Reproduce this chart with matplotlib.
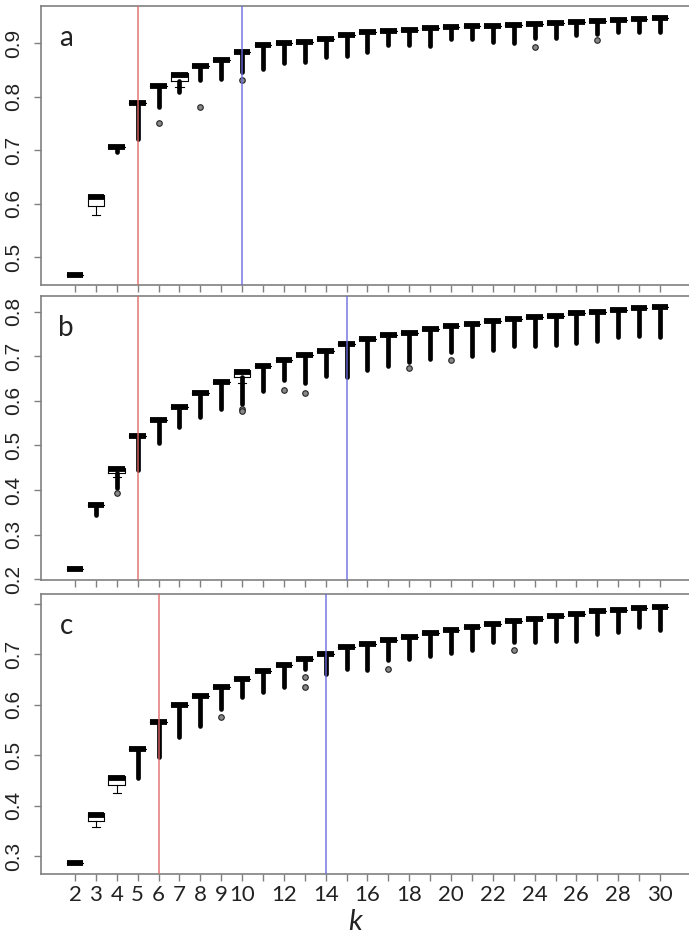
import matplotlib
matplotlib.use("Agg")
import matplotlib.pyplot as plt
import numpy as np

nan = np.nan

# number of clusters
k_values = list(range(2, 31))
xtick_labels = ["2", "3", "4", "5", "6", "7", "8", "9", "10", "", "12", "", "14", "",
                "16", "", "18", "", "20", "", "22", "", "24", "", "26", "", "28", "", "30"]

# panel a: median and lowest end of the dense outlier column
med_a = [0.466, 0.613, 0.706, 0.789, 0.820, 0.841, 0.858, 0.869, 0.884, 0.897,
         0.900, 0.903, 0.908, 0.915, 0.921, 0.924, 0.926, 0.928, 0.930, 0.932,
         0.933, 0.934, 0.936, 0.938, 0.940, 0.942, 0.943, 0.945, 0.947]
low_a = [nan, nan, 0.697, 0.722, 0.781, 0.809, 0.831, 0.833, 0.847, 0.853,
         0.863, 0.866, 0.875, 0.876, 0.884, 0.897, 0.897, 0.896, 0.908, 0.908,
         0.903, 0.900, 0.911, 0.911, 0.915, 0.917, 0.922, 0.922, 0.922]
boxes_a = {3: (0.595, 0.617, 0.579), 7: (0.830, 0.845, 0.819)}
out_k_a = [6, 8, 10, 24, 27]
out_v_a = [0.752, 0.781, 0.831, 0.893, 0.907]

# panel b
med_b = [0.222, 0.367, 0.446, 0.520, 0.557, 0.587, 0.618, 0.641, 0.664, 0.678,
         0.692, 0.703, 0.712, 0.727, 0.738, 0.747, 0.753, 0.760, 0.767, 0.773,
         0.778, 0.783, 0.787, 0.790, 0.796, 0.800, 0.803, 0.808, 0.811]
low_b = [nan, 0.344, 0.405, 0.445, 0.505, 0.542, 0.564, 0.581, 0.592, 0.621,
         0.647, 0.640, 0.656, 0.654, 0.669, 0.678, 0.688, 0.693, 0.710, 0.700,
         0.714, 0.722, 0.722, 0.725, 0.729, 0.733, 0.742, 0.745, 0.742]
boxes_b = {4: (0.437, 0.450, 0.430), 10: (0.653, 0.670, 0.640)}
out_k_b = [4, 10, 10, 12, 13, 18, 20]
out_v_b = [0.393, 0.582, 0.576, 0.625, 0.618, 0.674, 0.692]

# panel c
med_c = [0.2855, 0.381, 0.454, 0.513, 0.566, 0.600, 0.617, 0.635, 0.652, 0.667,
         0.678, 0.690, 0.700, 0.714, 0.721, 0.728, 0.734, 0.742, 0.748, 0.754,
         0.761, 0.766, 0.771, 0.777, 0.781, 0.786, 0.789, 0.792, 0.795]
low_c = [nan, nan, nan, 0.454, 0.497, 0.536, 0.557, 0.592, 0.615, 0.625,
         0.635, 0.672, 0.662, 0.672, 0.670, 0.688, 0.690, 0.696, 0.703, 0.708,
         0.724, 0.724, 0.724, 0.726, 0.726, 0.741, 0.744, 0.754, 0.748]
boxes_c = {3: (0.369, 0.385, 0.357), 4: (0.441, 0.459, 0.425)}
out_k_c = [9, 13, 13, 17, 23]
out_v_c = [0.576, 0.655, 0.636, 0.672, 0.709]

# selected k (red) and second choice (blue) per panel
red_k = [5, 5, 6]
blue_k = [10, 15, 14]

ylims = [(0.448, 0.970), (0.198, 0.835), (0.2644, 0.8198)]
yticks = [[0.5, 0.6, 0.7, 0.8, 0.9],
          [0.2, 0.3, 0.4, 0.5, 0.6, 0.7, 0.8],
          [0.3, 0.4, 0.5, 0.6, 0.7, 0.8]]
ylabels = [["0.5", "0.6", "0.7", "0.8", "0.9"],
           ["0.2", "0.3", "0.4", "0.5", "0.6", "0.7", "0.8"],
           ["0.3", "0.4", "0.5", "0.6", "0.7", ""]]
letters = ["a", "b", "c"]

W, H = 689, 938
fig = plt.figure(figsize=(W / 100, H / 100), dpi=100)
# pixel frames of the three panels: (top, bottom)
frames = [(6, 285), (296, 580), (594, 874)]
left_px = 41

grey = "#808080"
panels = [(med_a, low_a, boxes_a, out_k_a, out_v_a),
          (med_b, low_b, boxes_b, out_k_b, out_v_b),
          (med_c, low_c, boxes_c, out_k_c, out_v_c)]

for i, (med, low, boxes, out_k, out_v) in enumerate(panels):
    top, bot = frames[i]
    ax = fig.add_axes([left_px / W, 1 - bot / H, 1 - left_px / W, (bot - top) / H])

    stats = []
    for k, m in zip(k_values, med):
        q1, q3, wlo = boxes.get(k, (m, m, m))
        stats.append(dict(med=m, q1=q1, q3=q3, whislo=wlo, whishi=q3, fliers=[]))
    ax.bxp(stats, positions=k_values, widths=0.8, showfliers=False,
           boxprops=dict(color="black", linewidth=0.8),
           medianprops=dict(color="black", linewidth=4.2, solid_capstyle="butt"),
           whiskerprops=dict(color="black", linewidth=0.8),
           capprops=dict(color="black", linewidth=0.8),
           manage_ticks=False)

    # dense outlier columns under each box
    for k, m, lo in zip(k_values, med, low):
        if np.isnan(lo):
            continue
        q1 = boxes.get(k, (m, m, m))[0]
        ax.plot([k, k], [q1, lo], color="black", linewidth=3.4,
                solid_capstyle="round", zorder=3)
    ax.plot(out_k, out_v, "o", ms=4, mfc="#888888", mec="#222222", mew=0.8, zorder=3)

    ax.axvline(red_k[i], color="#e06868", linewidth=1.1, alpha=0.9, zorder=4)
    ax.axvline(blue_k[i], color="#6a6ae0", linewidth=1.1, alpha=0.9, zorder=4)

    ax.set_xlim(0.373, 31.39)
    ax.set_ylim(*ylims[i])
    ax.set_xticks(k_values)
    if i == 2:
        ax.set_xticklabels(xtick_labels, fontsize=16, family="Lato", color="#222222")
    else:
        ax.set_xticklabels([])
    ax.set_yticks(yticks[i])
    ax.set_yticklabels(ylabels[i], rotation=90, va="center", fontsize=15,
                       family="Liberation Sans", color="#222222")
    ax.tick_params(axis="both", direction="out", length=5, width=1, color=grey)
    ax.tick_params(axis="y", pad=8)
    ax.tick_params(axis="x", pad=3)
    for side in ["left", "top", "bottom"]:
        ax.spines[side].set_color(grey)
        ax.spines[side].set_linewidth(1.2)
    ax.spines["right"].set_visible(False)

    # panel letter, baseline about 40 px below the frame top
    ax.text(0.039, 1 - 40 / (bot - top), letters[i],
            transform=ax.transAxes, ha="center", va="baseline",
            fontsize=20, family="Lato", color="#222222")

fig.text(355 / W, 1 - 922 / H, "k", ha="center", va="center", fontsize=21,
         family="Lato", style="italic", color="#222222")

fig.savefig("out.png", dpi=100)
